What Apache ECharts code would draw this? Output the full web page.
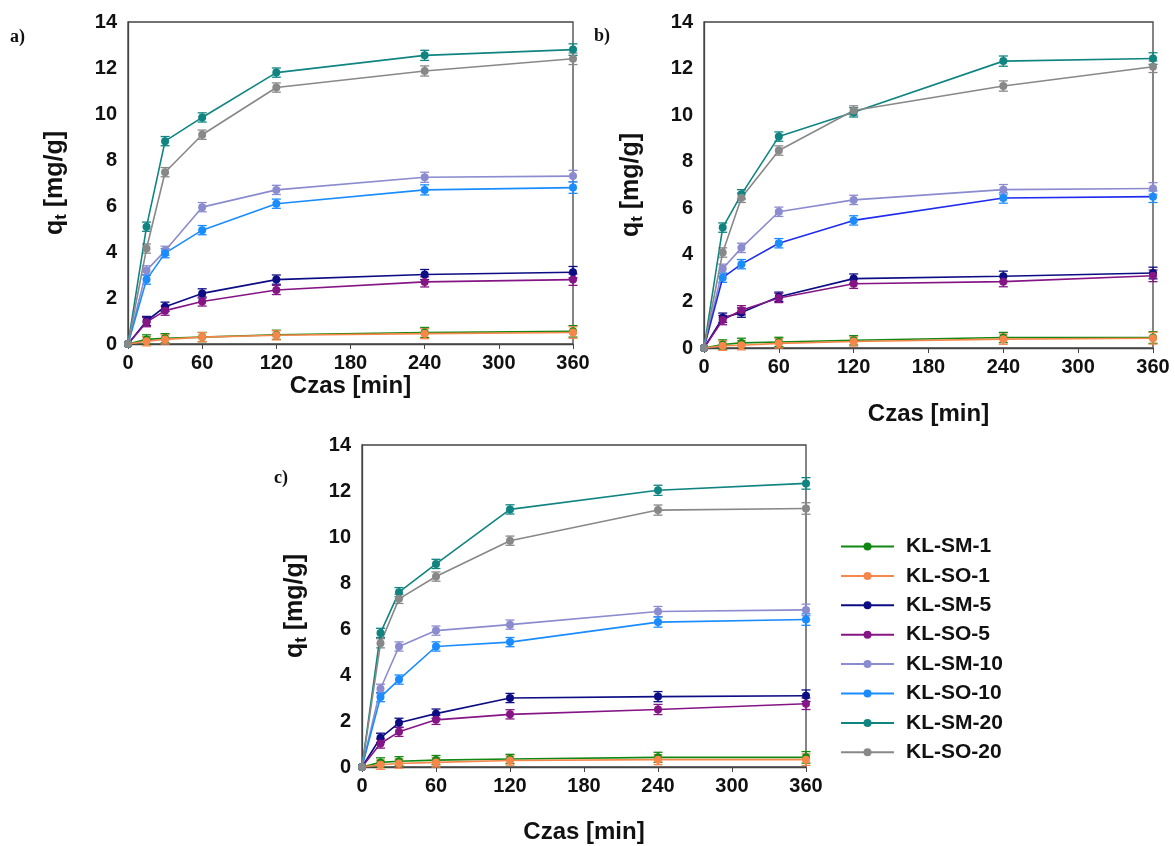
<!DOCTYPE html>
<html>
<head>
<meta charset="utf-8">
<script src="https://cdn.jsdelivr.net/npm/echarts@6/dist/echarts.min.js"></script>
<style>
  html, body { margin: 0; padding: 0; background: #fff; }
  #main { width: 1175px; height: 846px; }
</style>
</head>
<body>
<div id="main"></div>
<script>
var times = [0, 15, 30, 60, 120, 240, 360]
var names = ['KL-SM-1', 'KL-SO-1', 'KL-SM-5', 'KL-SO-5', 'KL-SM-10', 'KL-SO-10', 'KL-SM-20', 'KL-SO-20']
var colors = ['#118811', '#f7864a', '#0c0c84', '#851585', '#8b8bcf', '#1a8cff', '#0f8480', '#888888']
var xTicks = [0, 60, 120, 180, 240, 300, 360]
var errBar = [0, 0.2, 0.2, 0.2, 0.2, 0.22, 0.25]

// q_t values, rows follow the order of names
var panelA = [
	[0, 0.2, 0.25, 0.3, 0.4, 0.5, 0.55],
	[0, 0.12, 0.2, 0.3, 0.38, 0.45, 0.5],
	[0, 1.0, 1.62, 2.2, 2.8, 3.02, 3.12],
	[0, 0.95, 1.45, 1.85, 2.35, 2.7, 2.8],
	[0, 3.2, 4.05, 5.95, 6.7, 7.25, 7.3],
	[0, 2.8, 3.95, 4.95, 6.1, 6.7, 6.8],
	[0, 5.1, 8.82, 9.85, 11.8, 12.55, 12.8],
	[0, 4.15, 7.47, 9.1, 11.15, 11.87, 12.4],
]
var panelB = [
	[0, 0.15, 0.22, 0.26, 0.33, 0.45, 0.45],
	[0, 0.1, 0.12, 0.2, 0.28, 0.38, 0.42],
	[0, 1.3, 1.52, 2.2, 2.98, 3.08, 3.22],
	[0, 1.2, 1.62, 2.15, 2.76, 2.85, 3.1],
	[0, 3.4, 4.3, 5.85, 6.36, 6.8, 6.85],
	[0, 3.02, 3.6, 4.5, 5.48, 6.44, 6.5],
	[0, 5.17, 6.6, 9.08, 10.12, 12.32, 12.43],
	[0, 4.1, 6.45, 8.48, 10.2, 11.25, 12.08],
]
var panelC = [
	[0, 0.2, 0.25, 0.3, 0.35, 0.42, 0.42],
	[0, 0.1, 0.15, 0.2, 0.28, 0.32, 0.32],
	[0, 1.27, 1.92, 2.32, 3.0, 3.06, 3.1],
	[0, 1.02, 1.53, 2.05, 2.29, 2.5, 2.75],
	[0, 3.4, 5.24, 5.93, 6.19, 6.76, 6.83],
	[0, 3.04, 3.8, 5.24, 5.43, 6.3, 6.41],
	[0, 5.83, 7.6, 8.83, 11.2, 12.03, 12.33],
	[0, 5.38, 7.31, 8.28, 9.84, 11.17, 11.24],
]

var chart = echarts.init(document.getElementById('main'))

var font = 'Liberation Sans, Arial, sans-serif'
var grids = [
	{ left: 128, top: 22, width: 445, height: 322 },
	{ left: 704, top: 22, width: 449, height: 326 },
	{ left: 362, top: 445, width: 444, height: 322 },
]
var xNameGap = [25, 54, 53]
var yNameGap = [58, 58, 52]

function makeX(i) {
	return {
		gridIndex: i,
		type: 'value',
		min: 0,
		max: 360,
		interval: 60,
		name: 'Czas [min]',
		nameLocation: 'middle',
		nameGap: xNameGap[i],
		nameTextStyle: { fontFamily: font, fontWeight: 'bold', fontSize: 24, color: '#111' },
		axisLine: { show: true, onZero: false, lineStyle: { color: '#444', width: 1.3 } },
		axisTick: { show: true, length: 5, lineStyle: { color: '#444' } },
		axisLabel: { fontFamily: font, fontWeight: 'bold', fontSize: 20, color: '#111', margin: 9, showMaxLabel: true },
		splitLine: { show: false },
	}
}

function makeY(i) {
	return {
		gridIndex: i,
		type: 'value',
		min: 0,
		max: 14,
		interval: 2,
		name: 'q{sub|t} [mg/g]',
		nameLocation: 'middle',
		nameRotate: 90,
		nameGap: yNameGap[i],
		nameTextStyle: {
			fontFamily: font, fontWeight: 'bold', fontSize: 25, color: '#111',
			rich: {
				sub: { fontFamily: font, fontWeight: 'bold', fontSize: 17, color: '#111', verticalAlign: 'bottom', padding: [12, 0, 0, 0] },
			},
		},
		axisLine: { show: true, lineStyle: { color: '#444', width: 1.3 } },
		axisTick: { show: false },
		axisLabel: { fontFamily: font, fontWeight: 'bold', fontSize: 20, color: '#111', margin: 11 },
		splitLine: { show: false },
	}
}

function errorRender(params, api) {
	var x = api.value(0)
	var y = api.value(1)
	var e = api.value(2)
	if (!e) return
	var hi = api.coord([x, y + e])
	var lo = api.coord([x, y - e])
	var w = 4.5
	var st = { stroke: api.visual('color'), lineWidth: 1.3 }
	return {
		type: 'group',
		children: [
			{ type: 'line', shape: { x1: hi[0], y1: hi[1], x2: lo[0], y2: lo[1] }, style: st },
			{ type: 'line', shape: { x1: hi[0] - w, y1: hi[1], x2: hi[0] + w, y2: hi[1] }, style: st },
			{ type: 'line', shape: { x1: lo[0] - w, y1: lo[1], x2: lo[0] + w, y2: lo[1] }, style: st },
		],
	}
}

var lineSeries = []
var errSeries = []
;[panelA, panelB, panelC].forEach(function (panel, gi) {
	panel.forEach(function (vals, k) {
		var pts = times.map(function (t, j) { return [t, vals[j]] })
		var errs = times.map(function (t, j) { return [t, vals[j], errBar[j]] })
		var lineColor = colors[k]
		// panel b draws KL-SO-10 with a darker blue line
		if (gi === 1 && k === 5) lineColor = '#1f2cf0'
		lineSeries.push({
			name: names[k],
			type: 'line',
			xAxisIndex: gi,
			yAxisIndex: gi,
			data: pts,
			symbol: 'circle',
			symbolSize: 8,
			showAllSymbol: true,
			itemStyle: { color: colors[k] },
			lineStyle: { color: lineColor, width: 1.6 },
			z: 3,
		})
		errSeries.push({
			name: names[k],
			type: 'custom',
			xAxisIndex: gi,
			yAxisIndex: gi,
			renderItem: errorRender,
			itemStyle: { color: colors[k] },
			data: errs,
			z: 2,
			silent: true,
		})
	})
})

var option = {
	backgroundColor: '#fff',
	animation: false,
	grid: grids.map(function (g) {
		return Object.assign({ show: true, borderColor: '#444', borderWidth: 1.3, backgroundColor: 'transparent' }, g)
	}),
	xAxis: [makeX(0), makeX(1), makeX(2)],
	yAxis: [makeY(0), makeY(1), makeY(2)],
	legend: {
		data: names,
		orient: 'vertical',
		left: 835,
		top: 531,
		itemWidth: 53,
		itemHeight: 10,
		itemGap: 8.4,
		selectedMode: false,
		textStyle: { fontFamily: font, fontWeight: 'bold', fontSize: 21, color: '#111', padding: [0, 0, 0, 7] },
	},
	graphic: [
		{ type: 'text', left: 10, top: 28, style: { text: 'a)', font: 'bold 18px "Liberation Serif", serif', fill: '#111' } },
		{ type: 'text', left: 594, top: 27, style: { text: 'b)', font: 'bold 18px "Liberation Serif", serif', fill: '#111' } },
		{ type: 'text', left: 274, top: 469, style: { text: 'c)', font: 'bold 18px "Liberation Serif", serif', fill: '#111' } },
	],
	series: lineSeries.concat(errSeries),
}
chart.setOption(option)
</script>
</body>
</html>
